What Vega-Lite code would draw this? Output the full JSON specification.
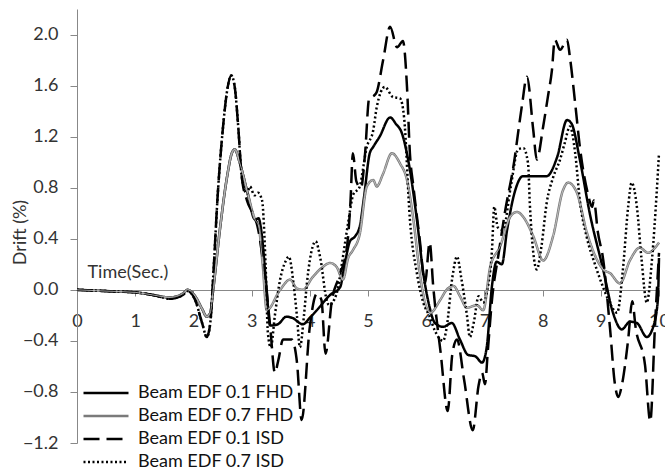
{
  "$schema": "https://vega.github.io/schema/vega-lite/v6.json",
  "width": 582,
  "height": 434,
  "autosize": {"type": "none"},
  "padding": {"left": 77, "top": 9, "right": 6, "bottom": 29},
  "config": {
    "view": {"stroke": null},
    "font": "Lato",
    "axis": {"labelFont": "Lato", "titleFont": "Lato", "labelColor": "#333333", "titleColor": "#333333", "titleFontWeight": "normal", "grid": false, "domainColor": "#888888", "tickColor": "#888888"},
    "legend": {"title": null, "orient": "none", "legendX": 5, "legendY": 375, "symbolType": "M-1,0H5", "symbolSize": 225, "symbolStrokeWidth": 2.5, "labelFontSize": 18, "labelFont": "Lato", "labelColor": "#111111", "labelOffset": 38, "rowPadding": 5, "padding": 0, "labelLimit": 300}
  },
  "data": {"values": [
    {"s":"Beam EDF 0.1 FHD","t":0,"d":0},{"s":"Beam EDF 0.1 FHD","t":0.5,"d":-0.01},{"s":"Beam EDF 0.1 FHD","t":1.0,"d":-0.02},{"s":"Beam EDF 0.1 FHD","t":1.3,"d":-0.04},{"s":"Beam EDF 0.1 FHD","t":1.6,"d":-0.06},{"s":"Beam EDF 0.1 FHD","t":1.82,"d":-0.03},{"s":"Beam EDF 0.1 FHD","t":1.9,"d":0.0},{"s":"Beam EDF 0.1 FHD","t":2.03,"d":-0.05},{"s":"Beam EDF 0.1 FHD","t":2.15,"d":-0.15},{"s":"Beam EDF 0.1 FHD","t":2.23,"d":-0.21},{"s":"Beam EDF 0.1 FHD","t":2.29,"d":-0.18},{"s":"Beam EDF 0.1 FHD","t":2.34,"d":0.0},{"s":"Beam EDF 0.1 FHD","t":2.46,"d":0.49},{"s":"Beam EDF 0.1 FHD","t":2.58,"d":0.89},{"s":"Beam EDF 0.1 FHD","t":2.66,"d":1.07},{"s":"Beam EDF 0.1 FHD","t":2.71,"d":1.10},{"s":"Beam EDF 0.1 FHD","t":2.8,"d":0.99},{"s":"Beam EDF 0.1 FHD","t":2.92,"d":0.78},{"s":"Beam EDF 0.1 FHD","t":3.06,"d":0.55},{"s":"Beam EDF 0.1 FHD","t":3.12,"d":0.56},{"s":"Beam EDF 0.1 FHD","t":3.17,"d":0.45},{"s":"Beam EDF 0.1 FHD","t":3.25,"d":0.05},{"s":"Beam EDF 0.1 FHD","t":3.32,"d":-0.28},{"s":"Beam EDF 0.1 FHD","t":3.45,"d":-0.27},{"s":"Beam EDF 0.1 FHD","t":3.6,"d":-0.21},{"s":"Beam EDF 0.1 FHD","t":3.7,"d":-0.22},{"s":"Beam EDF 0.1 FHD","t":3.88,"d":-0.27},{"s":"Beam EDF 0.1 FHD","t":4.0,"d":-0.22},{"s":"Beam EDF 0.1 FHD","t":4.12,"d":-0.16},{"s":"Beam EDF 0.1 FHD","t":4.35,"d":-0.04},{"s":"Beam EDF 0.1 FHD","t":4.52,"d":0.02},{"s":"Beam EDF 0.1 FHD","t":4.6,"d":0.2},{"s":"Beam EDF 0.1 FHD","t":4.69,"d":0.38},{"s":"Beam EDF 0.1 FHD","t":4.78,"d":0.42},{"s":"Beam EDF 0.1 FHD","t":4.86,"d":0.5},{"s":"Beam EDF 0.1 FHD","t":4.93,"d":0.72},{"s":"Beam EDF 0.1 FHD","t":5.03,"d":1.07},{"s":"Beam EDF 0.1 FHD","t":5.09,"d":1.12},{"s":"Beam EDF 0.1 FHD","t":5.2,"d":1.2},{"s":"Beam EDF 0.1 FHD","t":5.38,"d":1.35},{"s":"Beam EDF 0.1 FHD","t":5.48,"d":1.3},{"s":"Beam EDF 0.1 FHD","t":5.58,"d":1.23},{"s":"Beam EDF 0.1 FHD","t":5.72,"d":0.94},{"s":"Beam EDF 0.1 FHD","t":5.84,"d":0.55},{"s":"Beam EDF 0.1 FHD","t":5.95,"d":0.13},{"s":"Beam EDF 0.1 FHD","t":6.05,"d":-0.12},{"s":"Beam EDF 0.1 FHD","t":6.15,"d":-0.26},{"s":"Beam EDF 0.1 FHD","t":6.29,"d":-0.29},{"s":"Beam EDF 0.1 FHD","t":6.44,"d":-0.26},{"s":"Beam EDF 0.1 FHD","t":6.58,"d":-0.39},{"s":"Beam EDF 0.1 FHD","t":6.72,"d":-0.51},{"s":"Beam EDF 0.1 FHD","t":6.84,"d":-0.52},{"s":"Beam EDF 0.1 FHD","t":6.96,"d":-0.57},{"s":"Beam EDF 0.1 FHD","t":7.04,"d":-0.45},{"s":"Beam EDF 0.1 FHD","t":7.13,"d":0.03},{"s":"Beam EDF 0.1 FHD","t":7.21,"d":0.22},{"s":"Beam EDF 0.1 FHD","t":7.3,"d":0.2},{"s":"Beam EDF 0.1 FHD","t":7.39,"d":0.47},{"s":"Beam EDF 0.1 FHD","t":7.53,"d":0.78},{"s":"Beam EDF 0.1 FHD","t":7.66,"d":0.89},{"s":"Beam EDF 0.1 FHD","t":7.9,"d":0.89},{"s":"Beam EDF 0.1 FHD","t":8.07,"d":0.89},{"s":"Beam EDF 0.1 FHD","t":8.25,"d":1.04},{"s":"Beam EDF 0.1 FHD","t":8.42,"d":1.33},{"s":"Beam EDF 0.1 FHD","t":8.5,"d":1.3},{"s":"Beam EDF 0.1 FHD","t":8.64,"d":1.02},{"s":"Beam EDF 0.1 FHD","t":8.81,"d":0.6},{"s":"Beam EDF 0.1 FHD","t":9.04,"d":0.16},{"s":"Beam EDF 0.1 FHD","t":9.21,"d":-0.18},{"s":"Beam EDF 0.1 FHD","t":9.36,"d":-0.31},{"s":"Beam EDF 0.1 FHD","t":9.5,"d":-0.25},{"s":"Beam EDF 0.1 FHD","t":9.62,"d":-0.26},{"s":"Beam EDF 0.1 FHD","t":9.79,"d":-0.37},{"s":"Beam EDF 0.1 FHD","t":9.9,"d":-0.29},{"s":"Beam EDF 0.1 FHD","t":9.98,"d":-0.08},{"s":"Beam EDF 0.1 FHD","t":10.0,"d":0.25},

    {"s":"Beam EDF 0.7 FHD","t":0,"d":0},{"s":"Beam EDF 0.7 FHD","t":0.5,"d":-0.01},{"s":"Beam EDF 0.7 FHD","t":1.0,"d":-0.02},{"s":"Beam EDF 0.7 FHD","t":1.3,"d":-0.04},{"s":"Beam EDF 0.7 FHD","t":1.6,"d":-0.06},{"s":"Beam EDF 0.7 FHD","t":1.82,"d":-0.03},{"s":"Beam EDF 0.7 FHD","t":1.9,"d":0.0},{"s":"Beam EDF 0.7 FHD","t":2.03,"d":-0.05},{"s":"Beam EDF 0.7 FHD","t":2.15,"d":-0.15},{"s":"Beam EDF 0.7 FHD","t":2.23,"d":-0.21},{"s":"Beam EDF 0.7 FHD","t":2.29,"d":-0.18},{"s":"Beam EDF 0.7 FHD","t":2.34,"d":0.0},{"s":"Beam EDF 0.7 FHD","t":2.46,"d":0.49},{"s":"Beam EDF 0.7 FHD","t":2.58,"d":0.89},{"s":"Beam EDF 0.7 FHD","t":2.66,"d":1.07},{"s":"Beam EDF 0.7 FHD","t":2.71,"d":1.10},{"s":"Beam EDF 0.7 FHD","t":2.8,"d":0.99},{"s":"Beam EDF 0.7 FHD","t":2.92,"d":0.78},{"s":"Beam EDF 0.7 FHD","t":3.06,"d":0.55},{"s":"Beam EDF 0.7 FHD","t":3.12,"d":0.5},{"s":"Beam EDF 0.7 FHD","t":3.19,"d":0.2},{"s":"Beam EDF 0.7 FHD","t":3.26,"d":-0.16},{"s":"Beam EDF 0.7 FHD","t":3.49,"d":0.0},{"s":"Beam EDF 0.7 FHD","t":3.66,"d":0.08},{"s":"Beam EDF 0.7 FHD","t":3.78,"d":0.01},{"s":"Beam EDF 0.7 FHD","t":3.88,"d":0.0},{"s":"Beam EDF 0.7 FHD","t":4.05,"d":0.1},{"s":"Beam EDF 0.7 FHD","t":4.2,"d":0.17},{"s":"Beam EDF 0.7 FHD","t":4.35,"d":0.21},{"s":"Beam EDF 0.7 FHD","t":4.46,"d":0.18},{"s":"Beam EDF 0.7 FHD","t":4.57,"d":0.08},{"s":"Beam EDF 0.7 FHD","t":4.66,"d":0.25},{"s":"Beam EDF 0.7 FHD","t":4.74,"d":0.31},{"s":"Beam EDF 0.7 FHD","t":4.86,"d":0.44},{"s":"Beam EDF 0.7 FHD","t":4.98,"d":0.81},{"s":"Beam EDF 0.7 FHD","t":5.09,"d":0.86},{"s":"Beam EDF 0.7 FHD","t":5.15,"d":0.81},{"s":"Beam EDF 0.7 FHD","t":5.26,"d":0.91},{"s":"Beam EDF 0.7 FHD","t":5.41,"d":1.07},{"s":"Beam EDF 0.7 FHD","t":5.55,"d":0.99},{"s":"Beam EDF 0.7 FHD","t":5.67,"d":0.86},{"s":"Beam EDF 0.7 FHD","t":5.78,"d":0.55},{"s":"Beam EDF 0.7 FHD","t":5.89,"d":0.13},{"s":"Beam EDF 0.7 FHD","t":5.98,"d":-0.1},{"s":"Beam EDF 0.7 FHD","t":6.07,"d":-0.18},{"s":"Beam EDF 0.7 FHD","t":6.24,"d":-0.08},{"s":"Beam EDF 0.7 FHD","t":6.35,"d":0.0},{"s":"Beam EDF 0.7 FHD","t":6.47,"d":0.03},{"s":"Beam EDF 0.7 FHD","t":6.58,"d":-0.05},{"s":"Beam EDF 0.7 FHD","t":6.7,"d":-0.14},{"s":"Beam EDF 0.7 FHD","t":6.87,"d":-0.12},{"s":"Beam EDF 0.7 FHD","t":6.98,"d":-0.16},{"s":"Beam EDF 0.7 FHD","t":7.1,"d":0.18},{"s":"Beam EDF 0.7 FHD","t":7.27,"d":0.34},{"s":"Beam EDF 0.7 FHD","t":7.44,"d":0.57},{"s":"Beam EDF 0.7 FHD","t":7.56,"d":0.61},{"s":"Beam EDF 0.7 FHD","t":7.67,"d":0.57},{"s":"Beam EDF 0.7 FHD","t":7.84,"d":0.42},{"s":"Beam EDF 0.7 FHD","t":8.01,"d":0.23},{"s":"Beam EDF 0.7 FHD","t":8.18,"d":0.42},{"s":"Beam EDF 0.7 FHD","t":8.35,"d":0.78},{"s":"Beam EDF 0.7 FHD","t":8.44,"d":0.84},{"s":"Beam EDF 0.7 FHD","t":8.59,"d":0.76},{"s":"Beam EDF 0.7 FHD","t":8.76,"d":0.45},{"s":"Beam EDF 0.7 FHD","t":8.93,"d":0.24},{"s":"Beam EDF 0.7 FHD","t":9.04,"d":0.16},{"s":"Beam EDF 0.7 FHD","t":9.16,"d":0.13},{"s":"Beam EDF 0.7 FHD","t":9.33,"d":0.05},{"s":"Beam EDF 0.7 FHD","t":9.5,"d":0.23},{"s":"Beam EDF 0.7 FHD","t":9.67,"d":0.33},{"s":"Beam EDF 0.7 FHD","t":9.81,"d":0.29},{"s":"Beam EDF 0.7 FHD","t":10.0,"d":0.37},

    {"s":"Beam EDF 0.1 ISD","t":0,"d":0},{"s":"Beam EDF 0.1 ISD","t":0.5,"d":-0.01},{"s":"Beam EDF 0.1 ISD","t":1.0,"d":-0.02},{"s":"Beam EDF 0.1 ISD","t":1.3,"d":-0.04},{"s":"Beam EDF 0.1 ISD","t":1.6,"d":-0.07},{"s":"Beam EDF 0.1 ISD","t":1.82,"d":-0.04},{"s":"Beam EDF 0.1 ISD","t":1.9,"d":-0.01},{"s":"Beam EDF 0.1 ISD","t":2.03,"d":-0.08},{"s":"Beam EDF 0.1 ISD","t":2.15,"d":-0.26},{"s":"Beam EDF 0.1 ISD","t":2.23,"d":-0.37},{"s":"Beam EDF 0.1 ISD","t":2.29,"d":-0.26},{"s":"Beam EDF 0.1 ISD","t":2.34,"d":0.1},{"s":"Beam EDF 0.1 ISD","t":2.42,"d":0.76},{"s":"Beam EDF 0.1 ISD","t":2.51,"d":1.28},{"s":"Beam EDF 0.1 ISD","t":2.59,"d":1.59},{"s":"Beam EDF 0.1 ISD","t":2.65,"d":1.68},{"s":"Beam EDF 0.1 ISD","t":2.71,"d":1.59},{"s":"Beam EDF 0.1 ISD","t":2.77,"d":1.28},{"s":"Beam EDF 0.1 ISD","t":2.83,"d":0.89},{"s":"Beam EDF 0.1 ISD","t":2.92,"d":0.7},{"s":"Beam EDF 0.1 ISD","t":3.02,"d":0.6},{"s":"Beam EDF 0.1 ISD","t":3.1,"d":0.5},{"s":"Beam EDF 0.1 ISD","t":3.23,"d":0.1},{"s":"Beam EDF 0.1 ISD","t":3.32,"d":-0.29},{"s":"Beam EDF 0.1 ISD","t":3.4,"d":-0.65},{"s":"Beam EDF 0.1 ISD","t":3.46,"d":-0.55},{"s":"Beam EDF 0.1 ISD","t":3.54,"d":-0.39},{"s":"Beam EDF 0.1 ISD","t":3.69,"d":-0.39},{"s":"Beam EDF 0.1 ISD","t":3.78,"d":-0.57},{"s":"Beam EDF 0.1 ISD","t":3.86,"d":-1.02},{"s":"Beam EDF 0.1 ISD","t":4.0,"d":-0.29},{"s":"Beam EDF 0.1 ISD","t":4.12,"d":-0.03},{"s":"Beam EDF 0.1 ISD","t":4.2,"d":-0.08},{"s":"Beam EDF 0.1 ISD","t":4.27,"d":-0.5},{"s":"Beam EDF 0.1 ISD","t":4.38,"d":-0.08},{"s":"Beam EDF 0.1 ISD","t":4.5,"d":0.1},{"s":"Beam EDF 0.1 ISD","t":4.64,"d":0.34},{"s":"Beam EDF 0.1 ISD","t":4.7,"d":0.7},{"s":"Beam EDF 0.1 ISD","t":4.74,"d":1.07},{"s":"Beam EDF 0.1 ISD","t":4.8,"d":0.85},{"s":"Beam EDF 0.1 ISD","t":4.88,"d":0.8},{"s":"Beam EDF 0.1 ISD","t":4.95,"d":1.07},{"s":"Beam EDF 0.1 ISD","t":5.02,"d":1.5},{"s":"Beam EDF 0.1 ISD","t":5.1,"d":1.52},{"s":"Beam EDF 0.1 ISD","t":5.15,"d":1.55},{"s":"Beam EDF 0.1 ISD","t":5.26,"d":1.8},{"s":"Beam EDF 0.1 ISD","t":5.38,"d":2.06},{"s":"Beam EDF 0.1 ISD","t":5.5,"d":1.9},{"s":"Beam EDF 0.1 ISD","t":5.6,"d":1.95},{"s":"Beam EDF 0.1 ISD","t":5.67,"d":1.59},{"s":"Beam EDF 0.1 ISD","t":5.72,"d":1.07},{"s":"Beam EDF 0.1 ISD","t":5.78,"d":0.81},{"s":"Beam EDF 0.1 ISD","t":5.89,"d":0.39},{"s":"Beam EDF 0.1 ISD","t":5.98,"d":0.05},{"s":"Beam EDF 0.1 ISD","t":6.06,"d":0.37},{"s":"Beam EDF 0.1 ISD","t":6.12,"d":0.03},{"s":"Beam EDF 0.1 ISD","t":6.25,"d":-0.5},{"s":"Beam EDF 0.1 ISD","t":6.37,"d":-0.95},{"s":"Beam EDF 0.1 ISD","t":6.45,"d":-0.5},{"s":"Beam EDF 0.1 ISD","t":6.53,"d":-0.39},{"s":"Beam EDF 0.1 ISD","t":6.65,"d":-0.7},{"s":"Beam EDF 0.1 ISD","t":6.8,"d":-1.1},{"s":"Beam EDF 0.1 ISD","t":6.9,"d":-0.75},{"s":"Beam EDF 0.1 ISD","t":6.96,"d":-0.65},{"s":"Beam EDF 0.1 ISD","t":7.01,"d":-0.74},{"s":"Beam EDF 0.1 ISD","t":7.06,"d":-0.47},{"s":"Beam EDF 0.1 ISD","t":7.13,"d":-0.08},{"s":"Beam EDF 0.1 ISD","t":7.25,"d":0.3},{"s":"Beam EDF 0.1 ISD","t":7.35,"d":0.6},{"s":"Beam EDF 0.1 ISD","t":7.51,"d":1.0},{"s":"Beam EDF 0.1 ISD","t":7.6,"d":1.3},{"s":"Beam EDF 0.1 ISD","t":7.65,"d":1.46},{"s":"Beam EDF 0.1 ISD","t":7.73,"d":1.67},{"s":"Beam EDF 0.1 ISD","t":7.84,"d":1.25},{"s":"Beam EDF 0.1 ISD","t":7.9,"d":1.02},{"s":"Beam EDF 0.1 ISD","t":8.01,"d":1.28},{"s":"Beam EDF 0.1 ISD","t":8.09,"d":1.51},{"s":"Beam EDF 0.1 ISD","t":8.16,"d":1.72},{"s":"Beam EDF 0.1 ISD","t":8.21,"d":1.96},{"s":"Beam EDF 0.1 ISD","t":8.3,"d":1.88},{"s":"Beam EDF 0.1 ISD","t":8.42,"d":1.96},{"s":"Beam EDF 0.1 ISD","t":8.47,"d":1.82},{"s":"Beam EDF 0.1 ISD","t":8.56,"d":1.46},{"s":"Beam EDF 0.1 ISD","t":8.64,"d":1.12},{"s":"Beam EDF 0.1 ISD","t":8.78,"d":0.75},{"s":"Beam EDF 0.1 ISD","t":8.85,"d":0.65},{"s":"Beam EDF 0.1 ISD","t":8.88,"d":0.7},{"s":"Beam EDF 0.1 ISD","t":8.95,"d":0.45},{"s":"Beam EDF 0.1 ISD","t":9.04,"d":0.24},{"s":"Beam EDF 0.1 ISD","t":9.16,"d":-0.31},{"s":"Beam EDF 0.1 ISD","t":9.24,"d":-0.73},{"s":"Beam EDF 0.1 ISD","t":9.3,"d":-0.84},{"s":"Beam EDF 0.1 ISD","t":9.36,"d":-0.75},{"s":"Beam EDF 0.1 ISD","t":9.47,"d":-0.39},{"s":"Beam EDF 0.1 ISD","t":9.54,"d":-0.09},{"s":"Beam EDF 0.1 ISD","t":9.6,"d":-0.3},{"s":"Beam EDF 0.1 ISD","t":9.76,"d":-0.59},{"s":"Beam EDF 0.1 ISD","t":9.85,"d":-1.03},{"s":"Beam EDF 0.1 ISD","t":9.93,"d":-0.29},{"s":"Beam EDF 0.1 ISD","t":10.0,"d":0.29},

    {"s":"Beam EDF 0.7 ISD","t":0,"d":0},{"s":"Beam EDF 0.7 ISD","t":0.5,"d":-0.01},{"s":"Beam EDF 0.7 ISD","t":1.0,"d":-0.02},{"s":"Beam EDF 0.7 ISD","t":1.3,"d":-0.04},{"s":"Beam EDF 0.7 ISD","t":1.6,"d":-0.07},{"s":"Beam EDF 0.7 ISD","t":1.82,"d":-0.04},{"s":"Beam EDF 0.7 ISD","t":1.9,"d":-0.01},{"s":"Beam EDF 0.7 ISD","t":2.03,"d":-0.08},{"s":"Beam EDF 0.7 ISD","t":2.15,"d":-0.26},{"s":"Beam EDF 0.7 ISD","t":2.23,"d":-0.37},{"s":"Beam EDF 0.7 ISD","t":2.29,"d":-0.26},{"s":"Beam EDF 0.7 ISD","t":2.34,"d":0.1},{"s":"Beam EDF 0.7 ISD","t":2.42,"d":0.76},{"s":"Beam EDF 0.7 ISD","t":2.51,"d":1.28},{"s":"Beam EDF 0.7 ISD","t":2.59,"d":1.59},{"s":"Beam EDF 0.7 ISD","t":2.65,"d":1.68},{"s":"Beam EDF 0.7 ISD","t":2.71,"d":1.59},{"s":"Beam EDF 0.7 ISD","t":2.77,"d":1.28},{"s":"Beam EDF 0.7 ISD","t":2.83,"d":0.89},{"s":"Beam EDF 0.7 ISD","t":2.92,"d":0.75},{"s":"Beam EDF 0.7 ISD","t":2.97,"d":0.81},{"s":"Beam EDF 0.7 ISD","t":3.05,"d":0.74},{"s":"Beam EDF 0.7 ISD","t":3.11,"d":0.76},{"s":"Beam EDF 0.7 ISD","t":3.18,"d":0.7},{"s":"Beam EDF 0.7 ISD","t":3.24,"d":0.2},{"s":"Beam EDF 0.7 ISD","t":3.28,"d":-0.34},{"s":"Beam EDF 0.7 ISD","t":3.33,"d":-0.45},{"s":"Beam EDF 0.7 ISD","t":3.4,"d":-0.2},{"s":"Beam EDF 0.7 ISD","t":3.49,"d":0.08},{"s":"Beam EDF 0.7 ISD","t":3.58,"d":0.22},{"s":"Beam EDF 0.7 ISD","t":3.64,"d":0.26},{"s":"Beam EDF 0.7 ISD","t":3.72,"d":0.05},{"s":"Beam EDF 0.7 ISD","t":3.78,"d":-0.21},{"s":"Beam EDF 0.7 ISD","t":3.83,"d":-0.45},{"s":"Beam EDF 0.7 ISD","t":3.9,"d":-0.2},{"s":"Beam EDF 0.7 ISD","t":3.95,"d":0.05},{"s":"Beam EDF 0.7 ISD","t":4.05,"d":0.34},{"s":"Beam EDF 0.7 ISD","t":4.1,"d":0.38},{"s":"Beam EDF 0.7 ISD","t":4.18,"d":0.25},{"s":"Beam EDF 0.7 ISD","t":4.29,"d":-0.08},{"s":"Beam EDF 0.7 ISD","t":4.33,"d":-0.12},{"s":"Beam EDF 0.7 ISD","t":4.46,"d":-0.03},{"s":"Beam EDF 0.7 ISD","t":4.55,"d":0.2},{"s":"Beam EDF 0.7 ISD","t":4.65,"d":0.5},{"s":"Beam EDF 0.7 ISD","t":4.75,"d":0.75},{"s":"Beam EDF 0.7 ISD","t":4.85,"d":0.8},{"s":"Beam EDF 0.7 ISD","t":4.98,"d":1.12},{"s":"Beam EDF 0.7 ISD","t":5.09,"d":1.25},{"s":"Beam EDF 0.7 ISD","t":5.15,"d":1.43},{"s":"Beam EDF 0.7 ISD","t":5.29,"d":1.59},{"s":"Beam EDF 0.7 ISD","t":5.43,"d":1.51},{"s":"Beam EDF 0.7 ISD","t":5.55,"d":1.5},{"s":"Beam EDF 0.7 ISD","t":5.62,"d":1.35},{"s":"Beam EDF 0.7 ISD","t":5.72,"d":0.55},{"s":"Beam EDF 0.7 ISD","t":5.84,"d":0.13},{"s":"Beam EDF 0.7 ISD","t":5.95,"d":-0.1},{"s":"Beam EDF 0.7 ISD","t":6.05,"d":-0.2},{"s":"Beam EDF 0.7 ISD","t":6.15,"d":-0.32},{"s":"Beam EDF 0.7 ISD","t":6.29,"d":-0.4},{"s":"Beam EDF 0.7 ISD","t":6.35,"d":-0.3},{"s":"Beam EDF 0.7 ISD","t":6.45,"d":0.1},{"s":"Beam EDF 0.7 ISD","t":6.53,"d":0.26},{"s":"Beam EDF 0.7 ISD","t":6.6,"d":0.1},{"s":"Beam EDF 0.7 ISD","t":6.7,"d":-0.2},{"s":"Beam EDF 0.7 ISD","t":6.75,"d":-0.37},{"s":"Beam EDF 0.7 ISD","t":6.82,"d":-0.25},{"s":"Beam EDF 0.7 ISD","t":6.9,"d":-0.05},{"s":"Beam EDF 0.7 ISD","t":6.98,"d":-0.1},{"s":"Beam EDF 0.7 ISD","t":7.05,"d":0.0},{"s":"Beam EDF 0.7 ISD","t":7.13,"d":0.31},{"s":"Beam EDF 0.7 ISD","t":7.17,"d":0.65},{"s":"Beam EDF 0.7 ISD","t":7.23,"d":0.49},{"s":"Beam EDF 0.7 ISD","t":7.32,"d":0.47},{"s":"Beam EDF 0.7 ISD","t":7.45,"d":0.8},{"s":"Beam EDF 0.7 ISD","t":7.58,"d":1.1},{"s":"Beam EDF 0.7 ISD","t":7.67,"d":1.11},{"s":"Beam EDF 0.7 ISD","t":7.75,"d":0.99},{"s":"Beam EDF 0.7 ISD","t":7.78,"d":0.68},{"s":"Beam EDF 0.7 ISD","t":7.84,"d":0.29},{"s":"Beam EDF 0.7 ISD","t":7.9,"d":0.16},{"s":"Beam EDF 0.7 ISD","t":7.98,"d":0.34},{"s":"Beam EDF 0.7 ISD","t":8.07,"d":0.68},{"s":"Beam EDF 0.7 ISD","t":8.18,"d":0.88},{"s":"Beam EDF 0.7 ISD","t":8.3,"d":1.02},{"s":"Beam EDF 0.7 ISD","t":8.38,"d":1.15},{"s":"Beam EDF 0.7 ISD","t":8.47,"d":1.28},{"s":"Beam EDF 0.7 ISD","t":8.56,"d":1.07},{"s":"Beam EDF 0.7 ISD","t":8.64,"d":0.7},{"s":"Beam EDF 0.7 ISD","t":8.76,"d":0.41},{"s":"Beam EDF 0.7 ISD","t":8.9,"d":0.2},{"s":"Beam EDF 0.7 ISD","t":9.04,"d":0.02},{"s":"Beam EDF 0.7 ISD","t":9.15,"d":-0.1},{"s":"Beam EDF 0.7 ISD","t":9.28,"d":-0.18},{"s":"Beam EDF 0.7 ISD","t":9.38,"d":0.16},{"s":"Beam EDF 0.7 ISD","t":9.47,"d":0.65},{"s":"Beam EDF 0.7 ISD","t":9.53,"d":0.84},{"s":"Beam EDF 0.7 ISD","t":9.62,"d":0.65},{"s":"Beam EDF 0.7 ISD","t":9.7,"d":0.24},{"s":"Beam EDF 0.7 ISD","t":9.79,"d":-0.1},{"s":"Beam EDF 0.7 ISD","t":9.88,"d":0.24},{"s":"Beam EDF 0.7 ISD","t":9.96,"d":0.76},{"s":"Beam EDF 0.7 ISD","t":10.0,"d":1.07}
  ]},
  "encoding": {
    "x": {
      "field": "t", "type": "quantitative",
      "scale": {"domain": [0, 10], "nice": false, "zero": false},
      "axis": {
        "title": "Time(Sec.)", "titleFontSize": 18, "titleX": 10, "titleY": -18, "titleAlign": "left", "titleBaseline": "middle", "titleAnchor": null,
        "offset": -153, "values": [0,1,2,3,4,5,6,7,8,9,10], "format": "d",
        "labelFontSize": 18, "tickSize": 6, "labelPadding": 16, "labelFlush": false, "labelOverlap": false, "labelBound": false
      }
    },
    "y": {
      "field": "d", "type": "quantitative",
      "scale": {"domain": [-1.2, 2.2], "nice": false, "zero": false},
      "axis": {
        "title": "Drift (%)", "titleFontSize": 18, "titleX": -57, "titleY": 223, "titleAngle": -90, "titleAlign": "center", "titleBaseline": "middle",
        "values": [-1.2,-0.8,-0.4,0,0.4,0.8,1.2,1.6,2.0], "format": ".1f",
        "labelFontSize": 18, "tickSize": 7, "labelPadding": 12
      }
    }
  },
  "layer": [
    {
      "mark": {"type": "line", "interpolate": "monotone", "strokeWidth": 2.5, "clip": false},
      "encoding": {
        "color": {
          "field": "s", "type": "nominal",
          "scale": {"domain": ["Beam EDF 0.1 FHD","Beam EDF 0.7 FHD","Beam EDF 0.1 ISD","Beam EDF 0.7 ISD"], "range": ["#000000","#7a7a7a","#000000","#000000"]}
        },
        "strokeDash": {
          "field": "s", "type": "nominal",
          "scale": {"domain": ["Beam EDF 0.1 FHD","Beam EDF 0.7 FHD","Beam EDF 0.1 ISD","Beam EDF 0.7 ISD"], "range": [[1,0],[1,0],[16,7],[2,2.5]]}
        }
      }
    },
    {
      "transform": [{"filter": "datum.s == 'Beam EDF 0.7 FHD'"}],
      "mark": {"type": "line", "interpolate": "monotone", "strokeWidth": 0.8, "color": "#d0d0d0", "clip": false},
      "encoding": {}
    }
  ]
}
